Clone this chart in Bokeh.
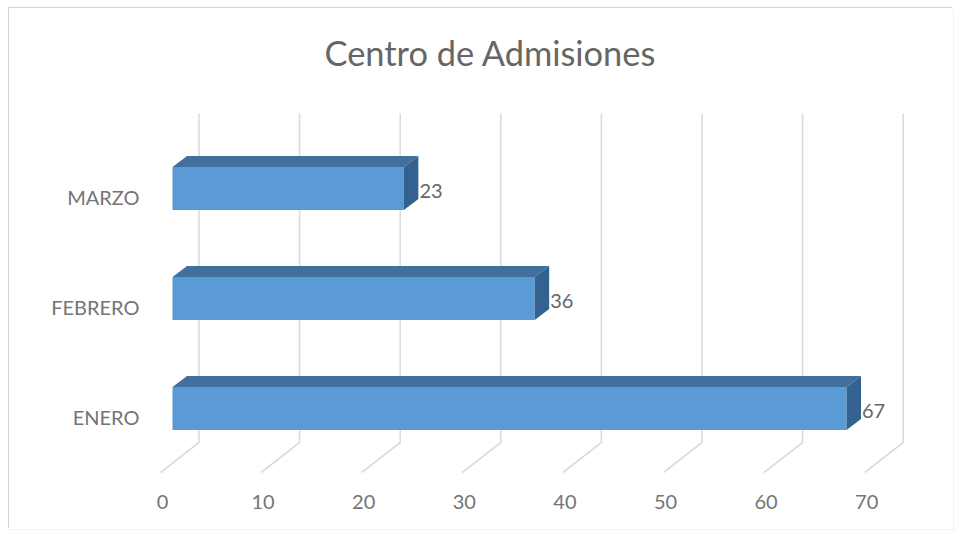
from bokeh.embed import file_html
from bokeh.resources import INLINE
from bokeh.plotting import figure
from bokeh.models import Range1d, LinearAxis, FixedTicker
from bokeh.core.properties import value

# ---- data ----
categories = ["ENERO", "FEBRERO", "MARZO"]
values = [67, 36, 23]
x_ticks = [0, 10, 20, 30, 40, 50, 60, 70]
title_text = "Centro de Admisiones"

# ---- layout (page pixels) ----
W, H = 944, 521
PAGE_X, PAGE_Y = 9, 8
F_L, F_R, F_T, F_B = 150, 940, 76, 480
PX0, PXU = 172.0, 10.06      # front plane: value 0 pixel and pixels per unit
PY0, PYU = 408.0, 110.0      # category 0 centre pixel and pixels per step

def xr(shift=0):
    return Range1d((F_L - PX0 + shift) / PXU, (F_R - PX0 + shift) / PXU)

def yr(shift=0):
    return Range1d((PY0 + shift - F_B) / PYU, (PY0 + shift - F_T) / PYU)

FONT = "Lato"
TXT = "#757575"
p = figure(width=W, height=H, output_backend="svg", toolbar_location=None,
           x_range=xr(), y_range=yr(), x_axis_type=None, y_axis_type=None,
           min_border_left=F_L - PAGE_X, min_border_right=PAGE_X + W - F_R,
           min_border_top=F_T - PAGE_Y, min_border_bottom=PAGE_Y + H - F_B,
           background_fill_color="white", border_fill_color="white",
           outline_line_color=None,
           styles={"margin": f"{PAGE_Y}px 0 0 {PAGE_X}px",
                   "box-shadow": "-1px -1px 0 #d4d4d4, 1px 1px 0 #f2f2f2"})
p.grid.visible = False

p.title.text = title_text
p.title.align = "left"
p.title.offset = 174
p.title.text_font = FONT
p.title.text_font_style = "normal"
p.title.text_font_size = "34.4px"
p.title.text_color = "#666666"
p.title.standoff = 8

# axes carry only labels, on ranges shifted to match the 3-D projection
p.extra_x_ranges["labels"] = xr(10)
p.extra_y_ranges["labels"] = yr(8)
xa = LinearAxis(x_range_name="labels", ticker=FixedTicker(ticks=x_ticks))
ya = LinearAxis(y_range_name="labels", ticker=FixedTicker(ticks=list(range(len(categories)))),
                major_label_overrides={i: c for i, c in enumerate(categories)})
for a in (xa, ya):
    a.axis_line_color = None
    a.major_tick_line_color = None
    a.minor_tick_line_color = None
    a.major_label_text_font = FONT
    a.major_label_text_font_size = "20px"
    a.major_label_text_color = TXT
xa.major_label_standoff = 8
ya.major_label_standoff = 5
p.add_layout(xa, "below")
p.add_layout(ya, "left")

# ---- 3-D walls ----
GRID_BACK = 26.5 / PXU
GRID_FRONT = -12 / PXU
Y_TOP = (PY0 - 113) / PYU
Y_BACK = (PY0 - 442) / PYU
Y_FRONT = (PY0 - 472) / PYU
p.multi_line(xs=[[t + GRID_BACK, t + GRID_BACK, t + GRID_FRONT] for t in x_ticks],
             ys=[[Y_TOP, Y_BACK, Y_FRONT] for t in x_ticks],
             line_color="#dcdcdc", line_width=1.6)

# ---- bars ----
idx = list(range(len(categories)))
HALF = 21.5 / PYU
DX, DY = 14.5 / PXU, 11.0 / PYU
p.hbar(y=idx, left=0, right=values, height=2 * HALF, fill_color="#5b9bd5", line_color=None)
p.patches(xs=[[0, v, v + DX, DX] for v in values],
          ys=[[i + HALF, i + HALF, i + HALF + DY, i + HALF + DY] for i in idx],
          fill_color="#41709e", line_color=None)
p.patches(xs=[[v, v + DX, v + DX, v] for v in values],
          ys=[[i + HALF, i + HALF + DY, i - HALF + DY, i - HALF] for i in idx],
          fill_color="#346290", line_color=None)

# ---- data labels ----
p.text(x=[v + DX for v in values], y=[i - 2 / PYU for i in idx], text=[str(v) for v in values],
       text_font=value(FONT), text_font_size="20px", text_color="#666666",
       text_align="left", text_baseline="middle", x_offset=1)

open("out.html", "w").write(file_html(p, INLINE))
